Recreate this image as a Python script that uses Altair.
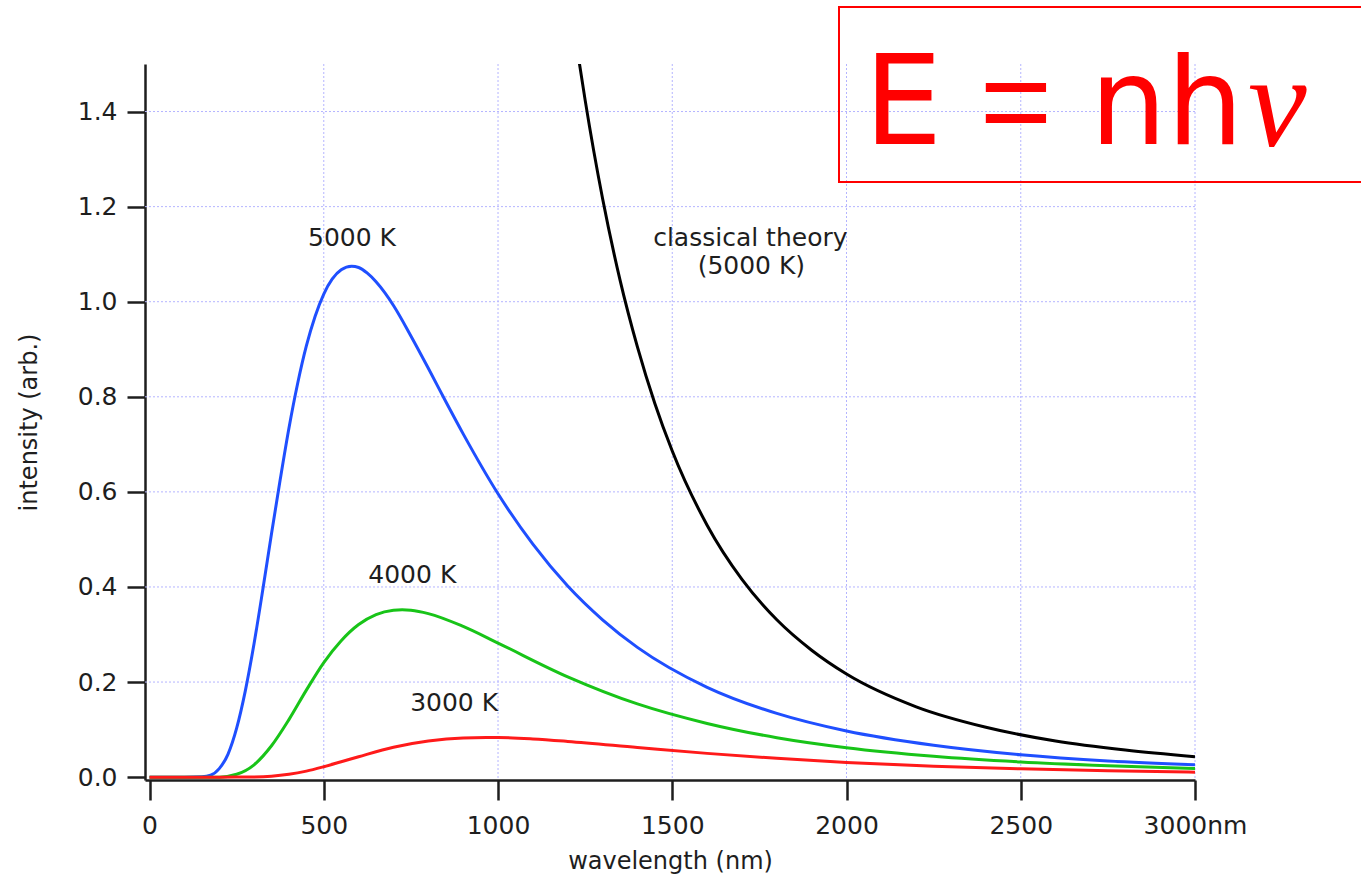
import altair as alt
import pandas as pd

# ---- curves (wavelength in nm, intensity arb.) ----
wl_5000 = [0, 100, 150, 175, 200, 225, 250, 275, 300, 325, 350, 375, 400, 425, 450, 475, 500, 550, 580, 600, 625, 650, 675, 700, 750, 800, 850, 900, 1000, 1100, 1200, 1300, 1400, 1600, 1800, 2000, 2250, 2500, 2750, 3000]
I_5000 = [0, 0, 0.001, 0.004, 0.018, 0.048, 0.103, 0.182, 0.281, 0.394, 0.512, 0.626, 0.734, 0.828, 0.907, 0.969, 1.016, 1.067, 1.0745, 1.072, 1.060, 1.042, 1.019, 0.992, 0.928, 0.860, 0.790, 0.722, 0.596, 0.490, 0.402, 0.331, 0.273, 0.189, 0.134, 0.097, 0.067, 0.047, 0.034, 0.026]

wl_4000 = [0, 150, 200, 250, 300, 350, 400, 450, 500, 550, 600, 650, 700, 725, 750, 800, 900, 1000, 1200, 1400, 1600, 1800, 2000, 2250, 2500, 2750, 3000]
I_4000 = [0, 0, 0, 0.006, 0.026, 0.066, 0.121, 0.183, 0.241, 0.287, 0.321, 0.342, 0.351, 0.352, 0.351, 0.344, 0.317, 0.282, 0.211, 0.154, 0.113, 0.083, 0.062, 0.044, 0.032, 0.024, 0.018]

wl_3000 = [0, 200, 300, 350, 400, 450, 500, 550, 600, 700, 800, 900, 966, 1000, 1100, 1200, 1400, 1600, 1800, 2000, 2250, 2500, 2750, 3000]
I_3000 = [0, 0, 0.0005, 0.002, 0.006, 0.0127, 0.022, 0.0324, 0.043, 0.063, 0.076, 0.0825, 0.0834, 0.0833, 0.0803, 0.0752, 0.0625, 0.050, 0.0396, 0.031, 0.023, 0.0176, 0.0135, 0.0104]

wl_classical = [1230, 1250, 1300, 1350, 1400, 1450, 1500, 1600, 1700, 1800, 1900, 2000, 2200, 2400, 2600, 2800, 3000]
I_classical = [1.518, 1.424, 1.217, 1.046, 0.905, 0.786, 0.686, 0.530, 0.416, 0.331, 0.267, 0.217, 0.148, 0.105, 0.076, 0.057, 0.043]

x_ticks = [0, 500, 1000, 1500, 2000, 2500, 3000]
y_ticks = [0.0, 0.2, 0.4, 0.6, 0.8, 1.0, 1.2, 1.4]
x_grid = [500, 1000, 1500, 2000, 2500, 3000]
y_grid = [0.2, 0.4, 0.6, 0.8, 1.0, 1.2, 1.4]

label_text = ["5000 K", "4000 K", "3000 K", "classical theory", "(5000 K)"]
label_wl = [581, 754, 874, 1724, 1727]
label_I = [1.133, 0.4245, 0.1555, 1.135, 1.076]

W, H = 1050, 716
FONT = "DejaVu Sans"
INK = "#1e1e1e"
GRID = "#b4b4ff"

xscale = alt.Scale(domain=[-13, 3000], nice=False, zero=False)
yscale = alt.Scale(domain=[-0.006, 1.5], nice=False, zero=False)

x_axis = alt.Axis(values=x_ticks, format="d", title="wavelength (nm)", grid=False,
                  tickSize=20, labelPadding=13, titlePadding=11, labelFlush=False,
                  labelOverlap=False,
                  labelExpr="datum.value == 3000 ? '3000nm' : datum.label")
y_axis = alt.Axis(values=y_ticks, format=".1f", title="intensity (arb.)", grid=False,
                  tickSize=18, labelPadding=10, titlePadding=36, labelFlush=False)


def curve(wl, vals, color, clip=False):
    df = pd.DataFrame({"wl": wl, "I": vals})
    return alt.Chart(df).mark_line(color=color, strokeWidth=3, interpolate="monotone", clip=clip).encode(
        x=alt.X("wl:Q", scale=xscale, axis=x_axis),
        y=alt.Y("I:Q", scale=yscale, axis=y_axis),
    )


vgrid = alt.Chart(pd.DataFrame({"wl": x_grid})).mark_rule(
    color=GRID, strokeWidth=1, strokeDash=[2, 2]
).encode(x=alt.X("wl:Q", scale=xscale, axis=x_axis))

hgrid = alt.Chart(pd.DataFrame({"I": y_grid})).mark_rule(
    color=GRID, strokeWidth=1, strokeDash=[2, 2]
).encode(y=alt.Y("I:Q", scale=yscale, axis=y_axis))

labels = alt.Chart(pd.DataFrame({"wl": label_wl, "I": label_I, "t": label_text})).mark_text(
    font=FONT, fontSize=25, color=INK, align="center", baseline="middle"
).encode(
    x=alt.X("wl:Q", scale=xscale, axis=x_axis),
    y=alt.Y("I:Q", scale=yscale, axis=y_axis),
    text="t:N",
)

one = pd.DataFrame({"a": [0]})

box = alt.Chart(one).mark_rect(fill="transparent", stroke="#ff0000", strokeWidth=2).encode(
    x=alt.value(694), x2=alt.value(1240), y=alt.value(-57), y2=alt.value(118)
)

eq_E = alt.Chart(one).mark_text(font=FONT, fontSize=124, color="#ff0000", align="left", baseline="alphabetic").encode(
    x=alt.value(719), y=alt.value(80), text=alt.value("E"))
eq_eq = alt.Chart(one).mark_text(font="Liberation Sans", fontSize=124, color="#ff0000", align="center", baseline="alphabetic").encode(
    x=alt.value(871), y=alt.value(80), text=alt.value("="))
eq_nh = alt.Chart(one).mark_text(font=FONT, fontSize=121, color="#ff0000", align="left", baseline="alphabetic").encode(
    x=alt.value(945), y=alt.value(80), text=alt.value("nh"))
eq_nu = alt.Chart(one).mark_text(font="Liberation Serif", fontStyle="italic", fontSize=132, color="#ff0000",
                                 align="left", baseline="alphabetic").encode(
    x=alt.value(1103), y=alt.value(82), text=alt.value("ν"))

chart = alt.layer(
    vgrid, hgrid,
    curve(wl_classical, I_classical, "#000000", clip=True),
    curve(wl_5000, I_5000, "#1f4fff"),
    curve(wl_4000, I_4000, "#18c418"),
    curve(wl_3000, I_3000, "#ff1a1a"),
    labels, box, eq_E, eq_eq, eq_nh, eq_nu,
).properties(
    width=W, height=H,
    autosize=alt.AutoSizeParams(type="none"),
    padding={"left": 145, "top": 64, "right": 166, "bottom": 100},
    background="white",
).configure_view(stroke=None).configure_axis(
    domainColor=INK, domainWidth=2.5, tickColor=INK, tickWidth=2.5,
    labelFont=FONT, labelFontSize=25, labelColor=INK,
    titleFont=FONT, titleFontSize=24, titleFontWeight="normal", titleColor=INK,
)

chart.save("out.html", embed_options={"renderer": "svg", "actions": False})
